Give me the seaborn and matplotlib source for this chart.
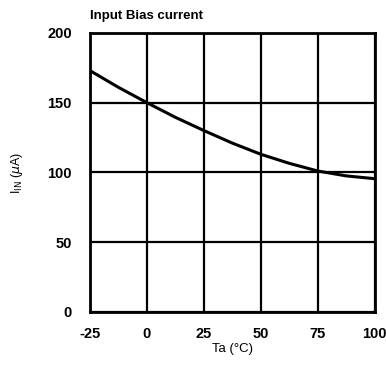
import matplotlib
matplotlib.use("Agg")
import matplotlib.pyplot as plt
import seaborn as sns
import pandas as pd

temp_c = [-25, -12.5, 0, 12.5, 25, 37.5, 50, 62.5, 75, 87.5, 100]
i_in_ua = [173, 161, 150, 139.5, 130, 121, 113, 106.5, 101, 97.5, 95.5]
x_ticks = [-25, 0, 25, 50, 75, 100]
y_ticks = [0, 50, 100, 150, 200]

df = pd.DataFrame({"Ta": temp_c, "Iin": i_in_ua})

sns.set_theme(style="white")
plt.rcParams["font.family"] = ["Liberation Sans", "DejaVu Sans"]
plt.rcParams["axes.unicode_minus"] = False

fig = plt.figure(figsize=(3.86, 3.70), dpi=100)
ax = fig.add_axes([0.233, 0.157, 0.738, 0.754])

sns.lineplot(data=df, x="Ta", y="Iin", ax=ax, color="black", linewidth=2.2)

ax.set_xlim(-25, 100)
ax.set_ylim(0, 200)
ax.set_xticks(x_ticks)
ax.set_yticks(y_ticks)
ax.grid(True, color="black", linewidth=1.6)
ax.tick_params(length=0, labelsize=10.5, labelcolor="black")
ax.tick_params(axis="y", pad=13)
ax.tick_params(axis="x", pad=11)
for lbl in ax.get_xticklabels() + ax.get_yticklabels():
    lbl.set_fontweight("bold")
for s in ax.spines.values():
    s.set_color("black")
    s.set_linewidth(2)

ax.set_xlabel("Ta (°C)", fontsize=9.5, labelpad=1, color="black")
ax.set_ylabel(r"I$_{\rm IN}$ ($\mu$A)", fontsize=9, labelpad=16, color="black")
ax.set_title("Input Bias current", fontsize=9.5, fontweight="bold", loc="left", pad=10, color="black")

fig.savefig("out.png", dpi=100)
